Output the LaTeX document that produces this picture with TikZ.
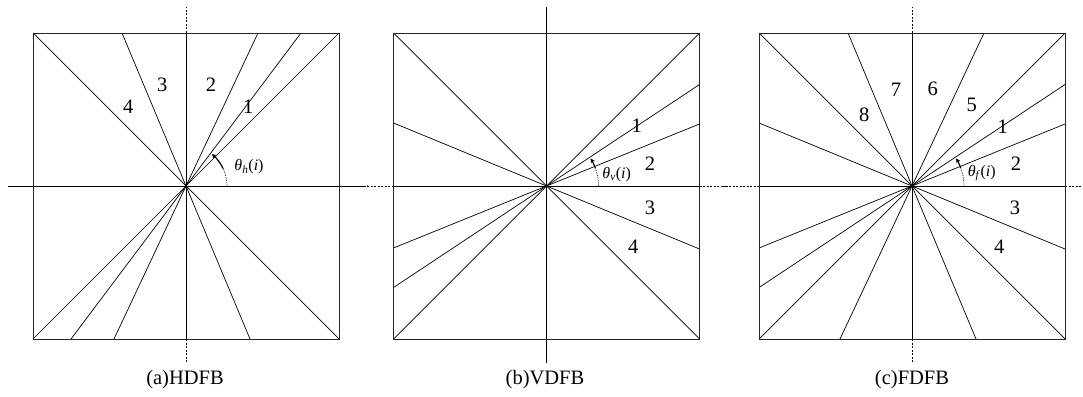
\documentclass[tikz,border=0pt]{standalone}
\usepackage{fontspec}
\setmainfont{Liberation Serif}
\usetikzlibrary{arrows.meta}
\begin{document}
\begin{tikzpicture}[x=1pt,y=1pt,
  ray/.style={line width=0.7pt},
  frame/.style={line width=0.9pt, draw=black!85},
  axdot/.style={line width=0.7pt, dash pattern=on 2pt off 1.5pt},
  num/.style={font=\fontsize{20.5}{24}\selectfont, inner sep=0pt},
  captext/.style={font=\fontsize{20.5}{24}\selectfont, inner sep=0pt},
  ang/.style={font=\fontsize{16}{19}\selectfont, inner sep=0pt},
  arcdot/.style={line width=0.7pt, densely dotted},
  arcsol/.style={line width=1.2pt, -{Stealth[length=4.5pt,width=4.5pt]}}]
\useasboundingbox (0,0) rectangle (1083,396);

% ---------------- (a) HDFB ----------------
\begin{scope}[shift={(186,210)}]
  \coordinate (Oa) at (0,0);
  \draw[ray] (-178,0) -- (179,0);
  \fill (181.5,0) circle (0.6);
  \draw[ray] (0,-153) -- (0,153);
  \draw[axdot] (0,153) -- (0,179);
  \draw[axdot] (0,-153) -- (0,-177);
  \draw[ray] (-153,-153) -- (153,153);
  \draw[ray] (-153,153) -- (153,-153);
  \draw[ray] (72,153) -- (-72,-153);
  \draw[ray] (115,153) -- (-115,-153);
  \draw[ray] (-64,153) -- (64,-153);
  \draw[frame] (-153,-153) rectangle (153,153);
  \draw[arcdot] (41,0) arc[start angle=0,end angle=25,radius=41];
  \draw[arcsol] (25:41) arc[start angle=25,end angle=51,radius=41];
  \node[num] (a4) at (-57.7,79.3) {4};
  \node[num] (a3) at (-23.7,101) {3};
  \node[num] (a2) at (25,101) {2};
  \node[num] (a1) at (62.3,79.3) {1};
  \node[ang] (ath) at (63,19.3) {\textit{θ}\textsubscript{\textit{h}}(\textit{i})};
  \node[captext] (acap) at (-1,-194) {(a)HDFB};
\end{scope}

% ---------------- (b) VDFB ----------------
\begin{scope}[shift={(546.5,210)}]
  \coordinate (Ob) at (0,0);
  \draw[ray] (0,-177) -- (0,179);
  \draw[ray] (-153,0) -- (153,0);
  \draw[axdot] (-186.5,0) -- (-153,0);
  \draw[axdot] (153,0) -- (179,0);
  \draw[ray] (-153,-153) -- (153,153);
  \draw[ray] (-153,153) -- (153,-153);
  \draw[ray] (153,101.5) -- (-153,-101.5);
  \draw[ray] (153,62) -- (-153,-62);
  \draw[ray] (153,-63) -- (-153,63);
  \draw[frame] (-153,-153) rectangle (153,153);
  \draw[arcdot] (52,0) arc[start angle=0,end angle=20,radius=52];
  \draw[arcsol] (20:52) arc[start angle=20,end angle=32,radius=52];
  \node[num] (b1) at (90.2,60) {1};
  \node[num] (b2) at (103.5,22.7) {2};
  \node[num] (b3) at (103.5,-22.3) {3};
  \node[num] (b4) at (86.8,-60.7) {4};
  \node[ang] (bth) at (70.2,11.7) {\textit{θ}\textsubscript{\textit{v}}(\textit{i})};
  \node[captext] (bcap) at (-1.5,-194) {(b)VDFB};
\end{scope}

% ---------------- (c) FDFB ----------------
\begin{scope}[shift={(912,210)}]
  \coordinate (Oc) at (0,0);
  \draw[ray] (0,-153) -- (0,153);
  \draw[axdot] (0,153) -- (0,179);
  \draw[axdot] (0,-153) -- (0,-177);
  \draw[ray] (-153,0) -- (153,0);
  \draw[axdot] (-190,0) -- (-153,0);
  \draw[axdot] (153,0) -- (171,0);
  \draw[ray] (-153,-153) -- (153,153);
  \draw[ray] (-153,153) -- (153,-153);
  \draw[ray] (153,101.5) -- (-153,-101.5);
  \draw[ray] (153,62) -- (-153,-62);
  \draw[ray] (153,-63) -- (-153,63);
  \draw[ray] (72,153) -- (-72,-153);
  \draw[ray] (-64,153) -- (64,-153);
  \draw[frame] (-153,-153) rectangle (153,153);
  \fill (0,0) circle (1.5);
  \draw[arcdot] (52,0) arc[start angle=0,end angle=20,radius=52];
  \draw[arcsol] (20:52) arc[start angle=20,end angle=32,radius=52];
  \node[num] (c5) at (59.7,81) {5};
  \node[num] (c6) at (20.7,96.7) {6};
  \node[num] (c7) at (-16,96.7) {7};
  \node[num] (c8) at (-47.7,71) {8};
  \node[num] (c1) at (90.7,59.3) {1};
  \node[num] (c2) at (104,22.7) {2};
  \node[num] (c3) at (103,-22.3) {3};
  \node[num] (c4) at (87.3,-60.7) {4};
  \node[ang] (cth) at (69.7,12.7) {\textit{θ}\textsubscript{\textit{f}}(\textit{i})};
  \node[captext] (ccap) at (0,-194) {(c)FDFB};
\end{scope}
\end{tikzpicture}
\end{document}
